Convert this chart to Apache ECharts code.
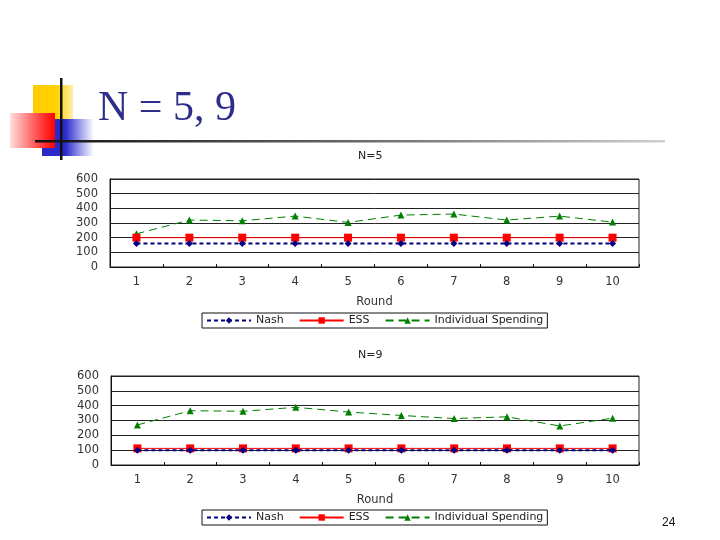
<!DOCTYPE html>
<html>
<head>
<meta charset="utf-8">
<script src="https://cdn.jsdelivr.net/npm/echarts@6/dist/echarts.min.js"></script>
<style>html,body{margin:0;padding:0;background:#fff;}#c{width:720px;height:540px;}</style>
</head>
<body>
<div id="c"></div>
<script>
const rounds = ['1','2','3','4','5','6','7','8','9','10'];
const yTicks = [0, 100, 200, 300, 400, 500, 600];
const seriesNames = ['Nash', 'ESS', 'Individual Spending'];
const n5Nash = [160,160,160,160,160,160,160,160,160,160];
const n5ESS = [200,200,200,200,200,200,200,200,200,200];
const n5Spending = [226,320,315,347,304,354,361,320,347,306];
const n9Nash = [100,100,100,100,100,100,100,100,100,100];
const n9ESS = [112,112,112,112,112,112,112,112,112,112];
const n9Spending = [270,366,362,389,357,334,313,325,263,316];

const chart = echarts.init(document.getElementById('c'));
const font = '"DejaVu Sans", Verdana, sans-serif';
const styles = [
  {color:'#000080', symbol:'diamond', symbolSize:7, lineStyle:{color:'#000080', width:2, type:[4,3]}},
  {color:'#ff0000', symbol:'rect', symbolSize:8, lineStyle:{color:'#ff0000', width:1, type:'solid'}},
  {color:'#008000', symbol:'triangle', symbolSize:7, lineStyle:{color:'#008000', width:1, type:[8,5]}}
];
function mkSeries(idx, data) {
  return data.map((d, i) => ({
    type:'line', name: seriesNames[i], xAxisIndex: idx, yAxisIndex: idx, data: d,
    showSymbol:true, animation:false, z: 5 - i,
    itemStyle:{color: styles[i].color},
    symbol: styles[i].symbol, symbolSize: styles[i].symbolSize, lineStyle: styles[i].lineStyle
  }));
}
function xAx(idx) {
  return {type:'category', gridIndex: idx, data: rounds, boundaryGap:true,
    axisLine:{lineStyle:{color:'#111', width:1}},
    axisTick:{show:true, inside:true, length:3, lineStyle:{color:'#111'}},
    axisLabel:{fontSize:11.5, color:'#333', margin:9, fontFamily:font},
    name:'Round', nameLocation:'middle', nameGap:29,
    nameTextStyle:{fontSize:11.5, color:'#333', fontFamily:font}};
}
function yAx(idx) {
  return {type:'value', gridIndex: idx, min: yTicks[0], max: yTicks[yTicks.length-1], interval: 100,
    axisLine:{show:true, lineStyle:{color:'#111'}},
    axisTick:{show:false},
    splitLine:{lineStyle:{color:'#222', width:1}},
    axisLabel:{fontSize:11.5, color:'#333', margin:12, fontFamily:font}};
}
function legend(top) {
  return {top: top, left: 202, data: seriesNames, orient:'horizontal',
    borderColor:'#111', borderWidth:1, padding:[2,4,2,4], itemGap:15,
    itemWidth:44, itemHeight:8,
    textStyle:{fontSize:11, color:'#222', fontFamily:font}};
}
const option = {
  backgroundColor:'#fff',
  animation:false,
  title:[
    {text:'N=5', left:353, top:146, textStyle:{fontSize:11, fontWeight:'normal', color:'#222', fontFamily:font}},
    {text:'N=9', left:353, top:345, textStyle:{fontSize:11, fontWeight:'normal', color:'#222', fontFamily:font}}
  ],
  grid:[
    {left:110, top:179, width:529, height:88, show:true, borderColor:'#222', borderWidth:1, backgroundColor:'#fff'},
    {left:111, top:376, width:528, height:89, show:true, borderColor:'#222', borderWidth:1, backgroundColor:'#fff'}
  ],
  legend:[legend(313), legend(510)],
  xAxis:[xAx(0), xAx(1)],
  yAxis:[yAx(0), yAx(1)],
  series: mkSeries(0, [n5Nash, n5ESS, n5Spending]).concat(mkSeries(1, [n9Nash, n9ESS, n9Spending])),
  graphic:[
    {type:'rect', shape:{x:33, y:85, width:40, height:35}, z:100,
      style:{fill:{type:'linear', x:0, y:0, x2:1, y2:0, colorStops:[{offset:0, color:'#ffcc00'},{offset:0.6, color:'#ffd200'},{offset:1, color:'#ffeeaa'}]}}},
    {type:'rect', shape:{x:42, y:119, width:52, height:37}, z:101,
      style:{fill:{type:'linear', x:0, y:0, x2:1, y2:0, colorStops:[{offset:0, color:'#2a2acc'},{offset:0.45, color:'#2a2acc'},{offset:1, color:'rgba(60,60,220,0)'}]}}},
    {type:'rect', shape:{x:10, y:113, width:45, height:35}, z:102,
      style:{fill:{type:'linear', x:0, y:0, x2:1, y2:0, colorStops:[{offset:0, color:'#ffdede'},{offset:0.6, color:'#ff5050'},{offset:1, color:'#ff0000'}]}}},
    {type:'rect', shape:{x:35, y:140, width:630, height:2.5}, z:103,
      style:{fill:{type:'linear', x:0, y:0, x2:1, y2:0, colorStops:[{offset:0, color:'#111'},{offset:0.5, color:'#666'},{offset:1, color:'#cfcfcf'}]}}},
    {type:'rect', shape:{x:60, y:78, width:2.5, height:82}, z:104, style:{fill:'#111'}},
    {type:'text', left:98, top:88, z:105,
      style:{text:'N = 5, 9', font:'42px "Liberation Serif", "Times New Roman", serif', fill:'#2d2d8a'}},
    {type:'text', left:662, top:517, z:105,
      style:{text:'24', font:'12px "Liberation Sans", Arial, sans-serif', fill:'#111'}}
  ]
};
chart.setOption(option);
</script>
</body>
</html>
